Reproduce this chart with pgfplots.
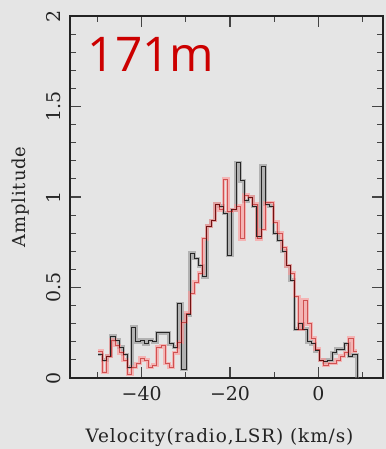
\documentclass[border=0pt]{standalone}
\usepackage{pgfplots}
\pgfplotsset{compat=1.18}
\usepackage{pgfplotstable}
\usepackage{fontspec}
\setmainfont{DejaVu Serif}
\newfontfamily\labelfont[LetterSpace=5]{DejaVu Serif}
\newfontfamily\tagfont{Open Sans}
\definecolor{bg}{RGB}{229,229,229}
\definecolor{tagred}{RGB}{204,0,0}
\definecolor{ink}{RGB}{35,35,35}

% spectrum: channel left edge (km/s), grey and red amplitudes
\pgfplotstableread{
v g r
-49.80 0.13 0.15
-48.86 0.10 0.03
-47.91 0.12 0.12
-46.97 0.23 0.21
-46.02 0.21 0.18
-45.08 0.17 0.14
-44.14 0.13 0.10
-43.19 0.06 0.02
-42.25 0.28 0.06
-41.30 0.20 0.08
-40.36 0.21 0.11
-39.42 0.19 0.10
-38.47 0.21 0.06
-37.53 0.20 0.07
-36.58 0.25 0.17
-35.64 0.25 0.18
-34.70 0.25 0.08
-33.75 0.19 0.06
-32.81 0.17 0.14
-31.86 0.41 0.20
-30.92 0.05 0.31
-29.98 0.35 0.36
-29.03 0.69 0.47
-28.09 0.66 0.53
-27.14 0.62 0.58
-26.20 0.56 0.77
-25.26 0.84 0.84
-24.31 0.87 0.87
-23.37 0.96 0.96
-22.42 0.95 0.93
-21.48 0.91 1.10
-20.54 0.68 0.92
-19.59 0.93 0.93
-18.65 1.19 0.95
-17.70 1.09 0.77
-16.76 0.98 1.01
-15.82 1.00 1.00
-14.87 0.95 0.96
-13.93 0.78 0.77
-12.98 1.17 0.82
-12.04 0.96 0.97
-11.10 0.95 0.97
-10.15 0.80 0.86
-9.21 0.76 0.80
-8.26 0.70 0.72
-7.32 0.62 0.62
-6.38 0.54 0.58
-5.43 0.27 0.45
-4.49 0.30 0.27
-3.54 0.27 0.43
-2.60 0.20 0.30
-1.66 0.19 0.22
-0.71 0.15 0.16
0.23 0.10 0.10
1.18 0.09 0.07
2.12 0.10 0.08
3.06 0.14 0.08
4.01 0.16 0.10
4.95 0.16 0.12
5.90 0.19 0.14
6.84 0.12 0.22
7.78 0.13 0.15
8.73 0.00 0.15
}\spectra

\begin{document}
\begin{tikzpicture}
\path[use as bounding box, fill=bg] (-70bp,-71bp) rectangle (316bp,378bp);
\begin{axis}[
  scale only axis,
  width=313bp, height=362bp,
  xmin=-56.2, xmax=14.6, ymin=0, ymax=2,
  xtick={-40,-20,0}, xticklabels={\textnormal{−40},\textnormal{−20},\textnormal{0}},
  minor xtick={-50,-30,-10,10},
  ytick={0,0.5,1,1.5,2},
  yticklabels={\textnormal{0},\textnormal{0.5},\textnormal{1},\textnormal{1.5},\textnormal{2}},
  minor ytick={0.1,0.2,0.3,0.4,0.6,0.7,0.8,0.9,1.1,1.2,1.3,1.4,1.6,1.7,1.8,1.9},
  tick align=inside,
  major tick length=11bp, minor tick length=6bp,
  tick style={color=ink!85, line width=1.1bp},
  axis line style={color=ink, line width=1.2bp},
  ticklabel style={font=\fontsize{19}{19}\selectfont, text=ink},
  xticklabel shift=5bp,
  yticklabel style={rotate=90, anchor=south},
  yticklabel shift=6bp,
  xlabel={\labelfont Velocity(radio,LSR) (km/s)},
  xlabel style={at={(axis description cs:0.5,0)}, anchor=base, yshift=-64bp, xshift=-7bp,
    font=\fontsize{18.5}{18.5}\selectfont, text=ink},
  ylabel={\labelfont Amplitude},
  ylabel style={at={(axis description cs:-0.158,0.5)}, anchor=center,
    font=\fontsize{18}{18}\selectfont, text=ink},
  axis background/.style={fill=bg},
  clip=false,
]
% broad translucent traces
\addplot[const plot, draw=black!50, line width=3.8bp, opacity=0.5] table[x=v, y=g] {\spectra};
\addplot[const plot, draw=red!42, line width=3.8bp, opacity=0.6] table[x=v, y=r] {\spectra};
% thin core traces
\addplot[const plot, draw=black!85, line width=0.8bp] table[x=v, y=g] {\spectra};
\addplot[const plot, draw=red!70!black, line width=0.6bp, opacity=0.55] table[x=v, y=r] {\spectra};

\node[anchor=base west, inner sep=0pt, text=tagred, font=\tagfont\fontsize{48}{48}\selectfont]
  at (rel axis cs:0.056,0.846) {171m};
\end{axis}
\end{tikzpicture}
\end{document}
